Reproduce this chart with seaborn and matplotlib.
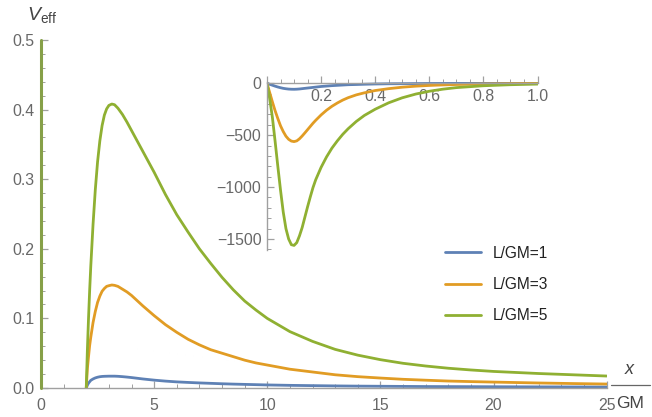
import numpy as np
import pandas as pd
import matplotlib
matplotlib.use("Agg")
import matplotlib.pyplot as plt
from matplotlib.lines import Line2D
from matplotlib.ticker import MultipleLocator
import seaborn as sns

x_main = [2.0, 2.05, 2.1, 2.15, 2.2, 2.3, 2.4, 2.5, 2.6, 2.7, 2.8, 2.9, 3.0,
          3.13, 3.25, 3.4, 3.6, 3.8, 4.0,
          4.5, 5.0, 5.5, 6.0, 6.5, 7.0, 7.5, 8.0, 8.5, 9.0, 9.5, 10.0,
          11, 12, 13, 14, 15, 16, 17, 18, 19, 20,
          22, 23.5, 25]
v_l1 = [0, 0.004, 0.007, 0.009, 0.011, 0.013, 0.0145, 0.0155, 0.0162, 0.0166,
        0.0168, 0.0169, 0.017,
        0.017, 0.017, 0.0168, 0.0163, 0.0157, 0.0150,
        0.0130, 0.0113, 0.0099, 0.0088, 0.0080, 0.0073, 0.0067, 0.0061,
        0.0056, 0.0052, 0.0048, 0.0044,
        0.0038, 0.0034, 0.0030, 0.0027, 0.0025, 0.0023, 0.0021, 0.0020,
        0.0019, 0.0018,
        0.0016, 0.0015, 0.0014]
v_l3 = [0, 0.028, 0.045, 0.061, 0.073, 0.094, 0.110, 0.123, 0.132, 0.139,
        0.143, 0.146, 0.147,
        0.148, 0.1475, 0.146, 0.142, 0.138, 0.133,
        0.118, 0.104, 0.091, 0.080, 0.070, 0.062, 0.055, 0.050, 0.045, 0.040,
        0.036, 0.033,
        0.027, 0.023, 0.019, 0.0163, 0.0143, 0.0125, 0.0112, 0.010, 0.0092,
        0.0085,
        0.0072, 0.0064, 0.0057]
v_l5 = [0, 0.055, 0.10, 0.14, 0.175, 0.235, 0.285, 0.325, 0.355, 0.377,
        0.392, 0.401, 0.406,
        0.408, 0.407, 0.402, 0.393, 0.382, 0.370,
        0.340, 0.310, 0.278, 0.249, 0.224, 0.200, 0.179, 0.159, 0.141, 0.125,
        0.112, 0.100,
        0.081, 0.067, 0.0555, 0.0472, 0.0407, 0.0355, 0.0316, 0.0284, 0.0259,
        0.0238,
        0.0208, 0.019, 0.0172]
# subida vertical das curvas junto a x=0
spike_x = [0, 0]
spike_y = [0, 0.5]

x_ins = [0, 0.01, 0.02, 0.03, 0.04, 0.05, 0.06, 0.07, 0.08, 0.09, 0.1,
         0.11, 0.12, 0.13, 0.14, 0.15, 0.16, 0.17, 0.18,
         0.2, 0.22, 0.24, 0.26, 0.28, 0.3,
         0.33, 0.36, 0.4,
         0.45, 0.5, 0.55, 0.6, 0.65, 0.7,
         0.8, 0.9, 1.0]
w_l1 = [0, -10, -19, -28, -36, -43, -49, -53, -56, -57.5, -58,
        -57, -55, -52, -49, -46, -43, -40, -37,
        -31, -27, -23, -20, -17, -14,
        -12, -9.5, -7,
        -5, -4, -3, -2, -1.6, -1.2,
        -0.7, -0.4, -0.2]
w_l3 = [0, -90, -180, -265, -340, -410, -465, -510, -540, -557, -562,
        -555, -535, -508, -478, -447, -416, -385, -357,
        -305, -260, -222, -190, -162, -139,
        -112, -92, -70,
        -52, -38, -28, -21, -16, -12,
        -7, -4, -2]
w_l5 = [0, -150, -330, -560, -800, -1030, -1240, -1400, -1500, -1555, -1562,
        -1535, -1470, -1390, -1290, -1190, -1095, -1005, -930,
        -810, -710, -625, -555, -492, -438,
        -368, -310, -250,
        -188, -140, -104, -77, -57, -42,
        -24, -14, -8]

rotulos = ['L/GM=1', 'L/GM=3', 'L/GM=5']
cores = ['#5E81B5', '#E19C24', '#8FB032']

sns.set_style('white')
plt.rcParams['font.family'] = ['Liberation Sans', 'DejaVu Sans']
plt.rcParams['mathtext.fontset'] = 'custom'
plt.rcParams['mathtext.it'] = 'Liberation Sans:italic'
plt.rcParams['mathtext.rm'] = 'Liberation Sans'

cinza = '#a0a0a0'
texto = '#686868'
tam = 11.4

fig = plt.figure(figsize=(6.52, 4.17), dpi=100)
ax = fig.add_axes([41 / 652, 29 / 417, 565.7 / 652, 348 / 417])

for rot, cor, v in zip(rotulos, cores, [v_l1, v_l3, v_l5]):
    df = pd.DataFrame({'x': x_main, 'v': v})
    sns.lineplot(data=df, x='x', y='v', color=cor, lw=2, ax=ax, sort=False,
                 estimator=None, label=rot)
ax.plot(spike_x, spike_y, color='#86a048', lw=2.2, zorder=5, clip_on=False)

ax.set_xlim(0, 25)
ax.set_ylim(0, 0.5)
ax.set_xlabel('')
ax.set_ylabel('')
for s in ['top', 'right']:
    ax.spines[s].set_visible(False)
for s in ['left', 'bottom']:
    ax.spines[s].set_color(cinza)
    ax.spines[s].set_linewidth(1)
ax.xaxis.set_major_locator(MultipleLocator(5))
ax.xaxis.set_minor_locator(MultipleLocator(1))
ax.yaxis.set_major_locator(MultipleLocator(0.1))
ax.yaxis.set_minor_locator(MultipleLocator(0.02))
ax.yaxis.set_major_formatter(plt.FuncFormatter(lambda v, p: f'{v:.1f}'))
ax.tick_params(which='both', direction='in', color=cinza, labelcolor=texto,
               labelsize=tam, bottom=True, left=True)
ax.tick_params(which='major', length=5, width=0.9)
ax.tick_params(which='minor', length=3, width=0.7)
ax.tick_params(axis='x', pad=7)
ax.tick_params(axis='y', pad=5)

leg = ax.legend(loc='upper left', bbox_to_anchor=(437 / 652, 1 - 238 / 417),
                bbox_transform=fig.transFigure, frameon=False, fontsize=11.2,
                handlelength=2.3, handletextpad=0.8, labelspacing=1.05,
                borderpad=0)
for t in leg.get_texts():
    t.set_color('#222222')

# rótulos dos eixos (estilo Mathematica)
fig.text(27 / 652, 1 - 15 / 417, r'$V_{\mathrm{eff}}$', fontsize=14,
         color='#444444', ha='left', va='center')
fig.text(630 / 652, 1 - 369 / 417, r'$x$', fontsize=13, color='#444444',
         ha='center', va='center')
fig.add_artist(Line2D([611 / 652, 650 / 652], [1 - 385 / 417, 1 - 385 / 417],
                      color='#666666', lw=0.9, transform=fig.transFigure))
fig.text(630 / 652, 1 - 403 / 417, 'GM', fontsize=12.5, color='#444444',
         ha='center', va='center')

# gráfico inserido
axi = fig.add_axes([267 / 652, (417 - 250.4) / 417, 270.5 / 652, 168.7 / 417])
for cor, w in zip(cores, [w_l1, w_l3, w_l5]):
    sns.lineplot(x=x_ins, y=w, color=cor, lw=2, ax=axi, sort=False,
                 estimator=None)
axi.set_xlim(0, 1.0)
axi.set_ylim(-1610, 15)
axi.patch.set_alpha(0)
for s in ['top', 'right']:
    axi.spines[s].set_visible(False)
axi.spines['bottom'].set_position(('data', 0))
for s in ['left', 'bottom']:
    axi.spines[s].set_color(cinza)
    axi.spines[s].set_linewidth(1)
axi.xaxis.set_major_locator(MultipleLocator(0.2))
axi.xaxis.set_minor_locator(MultipleLocator(0.05))
axi.yaxis.set_major_locator(MultipleLocator(500))
axi.yaxis.set_minor_locator(MultipleLocator(100))
axi.xaxis.set_major_formatter(plt.FuncFormatter(
    lambda v, p: '' if abs(v) < 1e-9 else f'{v:.1f}'))
axi.tick_params(which='both', direction='in', color=cinza, labelcolor=texto,
                labelsize=tam, bottom=True, left=True)
axi.tick_params(which='major', length=5, width=0.9)
axi.tick_params(which='minor', length=3, width=0.7)
axi.tick_params(axis='x', pad=4)
axi.tick_params(axis='y', pad=4)

fig.savefig('out.png', dpi=100)
